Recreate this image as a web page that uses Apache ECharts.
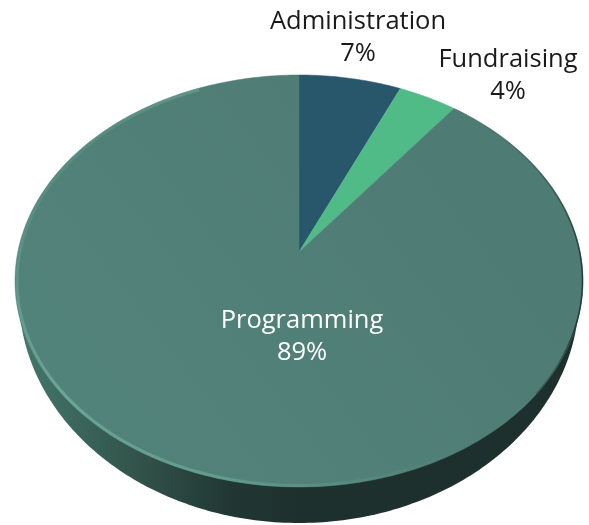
<!DOCTYPE html>
<html>
<head>
<meta charset="utf-8">
<style>html,body{margin:0;padding:0;background:#fff}#chart{width:589px;height:525px}</style>
<script src="https://cdn.jsdelivr.net/npm/echarts@6/dist/echarts.min.js"></script>
</head>
<body>
<div id="chart"></div>
<script>
// Budget split, clockwise from twelve o'clock
const categories = ['Administration', 'Fundraising', 'Programming'];
const shares = [7, 4, 89];

const sliceColors = ['#28566b', '#51bb88', {
  type: 'linear', global: true, x: 480, y: 120, x2: 90, y2: 420,
  colorStops: [{ offset: 0, color: '#4e7b73' }, { offset: 1, color: '#52837a' }]
}];
const labelColors = ['#1a1a1a', '#1a1a1a', '#ffffff'];
const labelCenters = [[358, 38], [508, 75.5], [302, 337]];

// Tilted disc: the top face is an ellipse, and the hub sits above its centre
const TOP = { cx: 299, cy: 281, rx: 284, ry: 206, tilt: 0.19 };
const HUB = [299, 252];
const BASE = { cx: 299, cy: 296, rx: 280, ry: 227 };
const DEG = Math.PI / 180;

// Perspective projection of a rim point (y up) onto the top face
function project(u, v) {
  const b = TOP.tilt;
  const d = 1 + b * v;
  return [
    TOP.cx + TOP.rx * (u * Math.sqrt(1 - b * b) / d),
    TOP.cy - TOP.ry * ((v + b) / d)
  ];
}

function rimArc(fromDeg, toDeg, inset) {
  const pts = [];
  const steps = Math.max(2, Math.ceil(Math.abs(toDeg - fromDeg)));
  const s = inset || 1;
  for (let i = 0; i <= steps; i++) {
    const t = (fromDeg + (toDeg - fromDeg) * i / steps) * DEG;
    pts.push(project(Math.sin(t), Math.cos(t)).map((p, k) =>
      k === 0 ? TOP.cx + (p - TOP.cx) * s : TOP.cy + (p - TOP.cy) * s));
  }
  return pts;
}

const total = shares.reduce((a, b) => a + b, 0);
function startAngle(index) {
  return shares.slice(0, index).reduce((a, b) => a + b, 0) / total * 360;
}

function renderDepth() {
  const pts = [];
  for (let a = 0; a <= 180; a++) {
    pts.push([
      BASE.cx + BASE.rx * Math.cos(a * DEG),
      BASE.cy + BASE.ry * Math.sin(a * DEG)
    ]);
  }
  return {
    type: 'polygon',
    shape: { points: pts },
    style: {
      fill: {
        type: 'linear', global: true, x: 20, y: 0, x2: 300, y2: 0,
        colorStops: [
          { offset: 0, color: '#44776b' },
          { offset: 0.35, color: '#35594f' },
          { offset: 0.75, color: '#213733' },
          { offset: 1, color: '#1e302d' }
        ]
      }
    },
    silent: true
  };
}

function renderSlice(params, api) {
  const i = params.dataIndex;
  const from = startAngle(i);
  const to = from + api.value(0) / total * 360;
  const color = sliceColors[i];
  return {
    type: 'polygon',
    shape: { points: [HUB].concat(rimArc(from, to)) },
    style: { fill: color, stroke: color, lineWidth: 0.5 },
    silent: true
  };
}

// Bevel on the big slice: a lit band at lower left, a thin shade at the right
function renderBevel() {
  return {
    type: 'group',
    children: [{
      type: 'polyline',
      shape: { points: rimArc(150, 335, 0.993) },
      style: {
        fill: null,
        lineWidth: 3,
        stroke: {
          type: 'linear', global: true, x: 430, y: 480, x2: 50, y2: 140,
          colorStops: [
            { offset: 0, color: 'rgba(106,165,150,0)' },
            { offset: 0.3, color: 'rgba(106,165,150,0.7)' },
            { offset: 0.65, color: 'rgba(106,165,150,1)' },
            { offset: 0.82, color: 'rgba(106,165,150,0.7)' },
            { offset: 1, color: 'rgba(106,165,150,0.1)' }
          ]
        }
      }
    }, {
      type: 'polyline',
      shape: { points: rimArc(45, 132, 0.998) },
      style: {
        fill: null,
        lineWidth: 1.5,
        stroke: {
          type: 'linear', global: true, x: 0, y: 110, x2: 0, y2: 370,
          colorStops: [
            { offset: 0, color: 'rgba(35,58,54,0)' },
            { offset: 0.55, color: 'rgba(35,58,54,0.9)' },
            { offset: 0.85, color: 'rgba(35,58,54,1)' },
            { offset: 1, color: 'rgba(35,58,54,0.4)' }
          ]
        }
      }
    }],
    silent: true
  };
}

function renderLabel(params, api) {
  const i = params.dataIndex;
  const c = labelCenters[i];
  return {
    type: 'text',
    x: c[0],
    y: c[1],
    style: {
      text: categories[i] + '\n' + api.value(0) + '%',
      fill: labelColors[i],
      font: '25.5px "Open Sans", Lato, sans-serif',
      lineHeight: 32,
      align: 'center',
      verticalAlign: 'middle'
    },
    silent: true
  };
}

const chart = echarts.init(document.getElementById('chart'), null, { renderer: 'canvas' });
chart.setOption({
  animation: false,
  backgroundColor: '#ffffff',
  series: [
    { type: 'custom', coordinateSystem: 'none', z: 1, data: [0], renderItem: renderDepth },
    { type: 'custom', coordinateSystem: 'none', z: 2, data: shares, renderItem: renderSlice },
    { type: 'custom', coordinateSystem: 'none', z: 3, data: [0], renderItem: renderBevel },
    { type: 'custom', coordinateSystem: 'none', z: 4, data: shares, renderItem: renderLabel }
  ]
});
</script>
</body>
</html>
